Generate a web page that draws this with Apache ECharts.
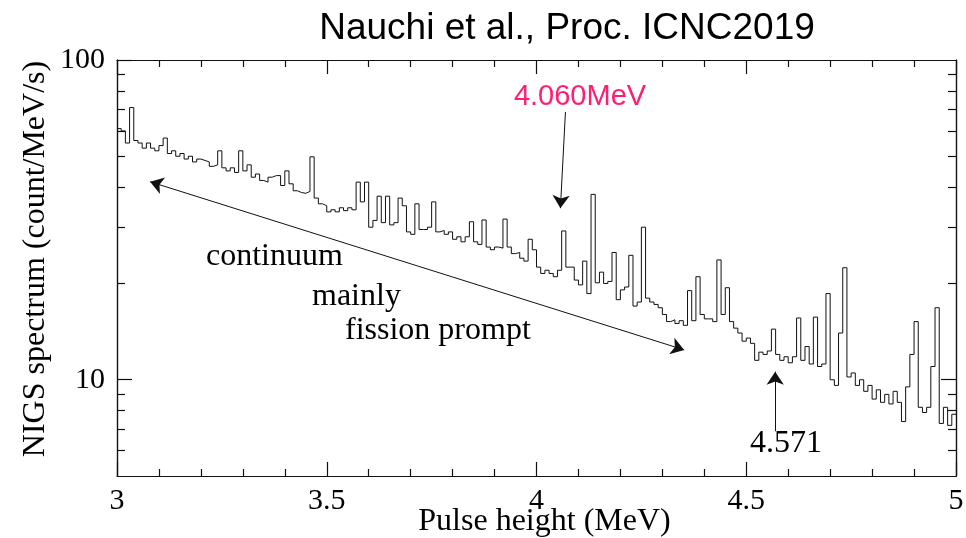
<!DOCTYPE html>
<html>
<head>
<meta charset="utf-8">
<script src="https://cdn.jsdelivr.net/npm/echarts@6.0.0/dist/echarts.min.js"></script>
<style>
  html, body { margin: 0; padding: 0; background: #fff; }
  #chart { width: 966px; height: 538px; }
</style>
</head>
<body>
<div id="chart"></div>
<script>
// spectrum, bins of 0.01 MeV starting at 3.00 MeV
const binStart = 3.0
const binWidth = 0.01

// 3.00 - 3.49 MeV
const counts1 = [
  61, 60, 55, 71, 56, 55, 53, 55, 53, 52,
  54, 57, 51, 52, 50, 51, 49, 50, 48, 49,
  48.5, 48, 46.5, 47, 52, 46, 45, 46, 44.5, 52,
  45, 47, 43, 44, 42, 41.5, 43, 43.5, 43.5, 40.5,
  45, 41, 39, 38.5, 38.3, 38.8, 49.8, 37, 35.5, 35
]
// 3.50 - 3.99 MeV
const counts2 = [
  33.5, 34, 33.5, 34.5, 33.8, 34.5, 34, 41.5, 36, 41.5,
  30, 31.5, 37.5, 31, 37.5, 30.5, 31, 37, 35, 29,
  28.5, 35.5, 29.5, 29.5, 30, 36, 29, 29.3, 28.5, 29,
  27.5, 28, 27, 28, 31.2, 27, 26.5, 31.6, 26, 25.5,
  26, 25.8, 31.8, 26, 24.8, 25, 24, 23.5, 27.5, 25.5
]
// 4.00 - 4.49 MeV
const counts3 = [
  22.5, 21.5, 22, 21.5, 21, 22, 29.2, 22.5, 22.5, 20.5,
  19.8, 23.5, 18.6, 38, 20.1, 21.7, 20, 20.3, 25, 17.8,
  19.1, 19.5, 24.5, 17, 17.5, 30, 18, 17.5, 17.2, 16.8,
  16, 15.2, 15.4, 15, 15.3, 14.8, 19, 15.3, 21, 16,
  15.5, 15.5, 15.2, 23.7, 16, 19.4, 15.2, 14.5, 14, 13.2
]
// 4.50 - 4.99 MeV
const counts4 = [
  13.5, 13, 11.5, 12.2, 12, 12.3, 14.4, 12, 11.5, 11.8,
  11.3, 11.8, 15.6, 11.5, 12.7, 11.2, 15.7, 11, 11.2, 18.6,
  10, 9.6, 14, 22.4, 10.2, 10.5, 9.6, 10, 9.2, 9.6,
  8.7, 9.3, 8.5, 9, 8.4, 9.2, 8.5, 7.4, 9.5, 12,
  15.2, 8.2, 7.9, 8.2, 11, 16.8, 7.3, 8.2, 7.2, 7.8
]

const xTickLabels = ['3', '3.5', '4', '4.5', '5']
const yMajor = [10, 100]
const yMinor = [6, 7, 8, 9, 20, 30, 40, 50, 60, 70, 80, 90]

const counts = counts1.concat(counts2, counts3, counts4)
const spectrum = counts.map((c, i) => [+(binStart + i * binWidth).toFixed(2), c])
spectrum.push([+(binStart + counts.length * binWidth).toFixed(2), counts[counts.length - 1]])

const serif = '"Liberation Serif", "Times New Roman", serif'
const sans = '"Liberation Sans", Arial, sans-serif'
const ink = '#111'
const frame = { color: ink, width: 1.2 }

function xAxis(position, showLabel) {
  return {
    type: 'value',
    position: position,
    min: 3,
    max: 5,
    interval: 0.5,
    axisLine: { show: true, onZero: false, lineStyle: frame },
    axisTick: { show: true, inside: true, length: 14, lineStyle: frame },
    minorTick: { show: true, splitNumber: 5, length: 7, lineStyle: frame },
    axisLabel: {
      show: showLabel,
      margin: 10,
      color: '#000',
      fontFamily: serif,
      fontSize: 30,
      formatter: v => xTickLabels.find(s => +s === v) || ''
    },
    splitLine: { show: false },
    minorSplitLine: { show: false }
  }
}

function yAxis(position, ticks, len, showLabel) {
  return {
    type: 'log',
    logBase: 10,
    position: position,
    min: 5,
    max: 100,
    axisLine: { show: true, onZero: false, lineStyle: frame },
    axisTick: { show: true, inside: true, length: len, customValues: ticks, lineStyle: frame },
    minorTick: { show: false },
    axisLabel: {
      show: showLabel,
      customValues: yMajor,
      margin: 12,
      color: '#000',
      fontFamily: serif,
      fontSize: 30
    },
    splitLine: { show: false }
  }
}

const chart = echarts.init(document.getElementById('chart'))

const yMain = yAxis('left', yMajor, 15, true)
yMain.name = 'NIGS spectrum (count/MeV/s)'
yMain.nameLocation = 'middle'
yMain.nameGap = 65
yMain.nameMoveOverlap = false
yMain.nameTextStyle = { fontFamily: serif, fontSize: 32, color: '#000', padding: [0, 0, 0, 18] }

const xMain = xAxis('bottom', true)
xMain.name = 'Pulse height (MeV)'
xMain.nameLocation = 'middle'
xMain.nameGap = 30
xMain.nameMoveOverlap = false
xMain.nameTextStyle = { fontFamily: serif, fontSize: 32, color: '#000', padding: [0, 0, 0, 16] }

const option = {
  animation: false,
  backgroundColor: '#fff',
  grid: { left: 117, right: 10, top: 60, bottom: 62, containLabel: false, outerBoundsMode: 'none' },
  xAxis: [xMain, xAxis('top', false)],
  yAxis: [
    yMain,
    yAxis('left', yMinor, 8, false),
    yAxis('right', [10], 15, false),
    yAxis('right', yMinor, 8, false)
  ],
  series: [
    {
      type: 'line',
      xAxisIndex: 0,
      yAxisIndex: 0,
      step: 'end',
      data: spectrum,
      showSymbol: false,
      symbol: 'none',
      lineStyle: { color: ink, width: 1 },
      markLine: {
        silent: true,
        label: { show: false },
        lineStyle: { color: ink, width: 1, type: 'solid' },
        symbolSize: 13,
        data: [
          [{ coord: [3.079, 41.6], symbol: 'arrow' }, { coord: [4.352, 12.4], symbol: 'arrow' }],
          [{ coord: [4.069, 68.8], symbol: 'none' }, { coord: [4.057, 34.4], symbol: 'arrow' }],
          [{ coord: [4.569, 6.9], symbol: 'none' }, { coord: [4.569, 10.6], symbol: 'arrow' }]
        ]
      }
    }
  ],
  graphic: [
    { type: 'text', style: { x: 567, y: 29, text: 'Nauchi et al., Proc. ICNC2019', fill: '#000', font: '37px ' + sans, textAlign: 'center', textVerticalAlign: 'middle' } },
    { type: 'text', style: { x: 580, y: 97, text: '4.060MeV', fill: '#ff1f72', font: '29px ' + sans, textAlign: 'center', textVerticalAlign: 'middle' } },
    { type: 'text', style: { x: 206, y: 257, text: 'continuum', fill: '#000', font: '32px ' + serif, textAlign: 'left', textVerticalAlign: 'middle' } },
    { type: 'text', style: { x: 312, y: 297, text: 'mainly', fill: '#000', font: '32px ' + serif, textAlign: 'left', textVerticalAlign: 'middle' } },
    { type: 'text', style: { x: 345, y: 331, text: 'fission prompt', fill: '#000', font: '32px ' + serif, textAlign: 'left', textVerticalAlign: 'middle' } },
    { type: 'text', style: { x: 786, y: 444, text: '4.571', fill: '#000', font: '32px ' + serif, textAlign: 'center', textVerticalAlign: 'middle' } }
  ]
}

chart.setOption(option)
</script>
</body>
</html>
